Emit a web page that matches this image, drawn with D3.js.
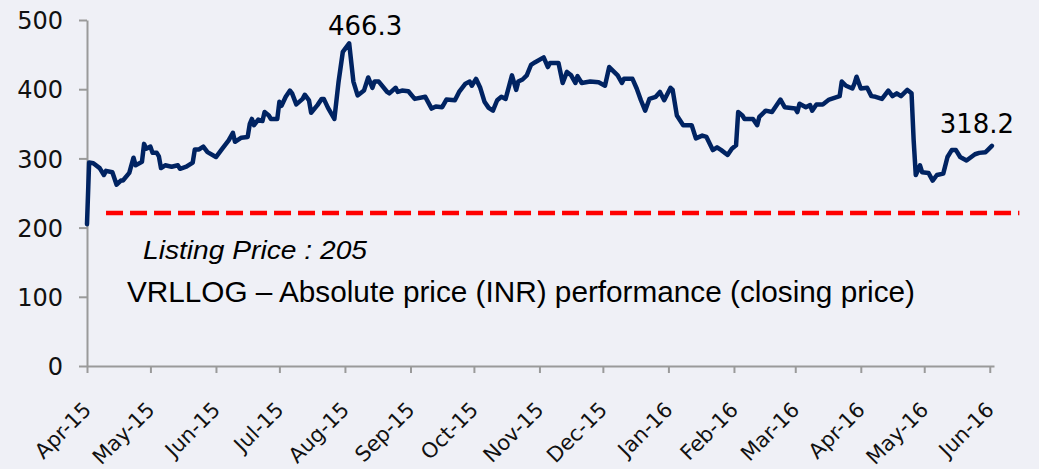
<!DOCTYPE html>
<html>
<head>
<meta charset="utf-8">
<script src="https://cdn.jsdelivr.net/npm/d3@7"></script>
<style>
    html, body { margin: 0; padding: 0; background: #eff0f6; }
    #chart { width: 1039px; height: 469px; }
    .axis path, .axis line { stroke: #9a9a9a; stroke-width: 2; }
    .axis text { font-family: "DejaVu Sans", sans-serif; fill: #111; }
</style>
</head>
<body>
<div id="chart"></div>
<script>
// Days since listing (1 Apr 2015) and closing price (INR)
const listingDate = "2015-04-01";
const dayOffsets = [0, 1, 3, 6, 8, 9, 12, 14, 16, 17, 20, 22, 23, 26, 27, 28, 30, 31, 33, 34, 35, 37, 40, 43, 44, 47, 50, 51, 53, 55,
    57, 61, 64, 67, 69, 70, 73, 76, 77, 78, 79, 81, 83, 84, 86, 87, 90, 91, 92, 94, 96, 97, 99, 102, 103, 105, 106, 109, 111, 112,
    114, 117, 119, 121, 124, 126, 128, 131, 133, 135, 136, 138, 142, 143, 146, 147, 149, 152, 155, 160, 163, 165, 168, 170, 174, 176,
    179, 181, 182, 184, 186, 188, 190, 192, 194, 196, 198, 201, 203, 204, 206, 208, 210, 212, 216, 218, 219, 223, 225, 227, 229, 231,
    232, 234, 238, 242, 245, 247, 251, 253, 254, 258, 260, 262, 264, 266, 269, 271, 273, 276, 277, 279, 282, 286, 288, 291, 293, 296,
    298, 300, 303, 305, 307, 308, 310, 311, 315, 317, 318, 321, 324, 328, 330, 335, 336, 337, 340, 342, 343, 345, 348, 351, 356, 357,
    359, 362, 363, 364, 366, 369, 371, 373, 376, 379, 381, 383, 385, 388, 390, 391, 392, 394, 395, 398, 400, 402, 405, 407, 409, 411,
    413, 416, 420, 422, 425, 426, 428];
const closePrices = [205, 294, 293, 286, 276, 282, 280, 262, 268, 268, 279, 301, 290, 295, 321, 314, 317, 308, 308, 303, 286, 290, 288, 290, 285, 288, 294, 313, 313, 317,
    309, 302, 314, 326, 337, 324, 330, 331, 350, 357, 348, 356, 354, 367, 362, 357, 357, 382, 376, 389, 398, 394, 378, 386, 392, 384, 366, 377, 386, 386,
    373, 357, 411, 454, 466.3, 411, 391, 398, 417, 402, 411, 411, 396, 394, 402, 396, 398, 397, 386, 389, 372, 375, 374, 385, 384, 396,
    408, 411, 405, 415, 402, 382, 373, 369, 384, 389, 386, 420, 399, 411, 414, 420, 435, 439, 446, 432, 438, 438, 409, 425, 420, 409,
    419, 409, 411, 410, 405, 432, 420, 409, 415, 415, 401, 384, 369, 386, 389, 396, 384, 402, 399, 362, 348, 348, 329, 333, 331, 312,
    316, 312, 305, 314, 319, 367, 362, 357, 357, 348, 360, 369, 367, 385, 374, 372, 367, 379, 374, 377, 369, 378, 378, 385, 390, 411,
    405, 401, 408, 418, 401, 402, 390, 389, 386, 398, 390, 394, 390, 399, 394, 326, 276, 290, 280, 279, 268, 276, 278, 302, 312, 312,
    302, 297, 306, 308, 309, 312, 318.2];

const yTicks = [0, 100, 200, 300, 400, 500];
const listingPrice = 205;
const listingLineLevel = 221;   // dashed line sits a bit above 205 in the original
const listingLineSpan = ["2015-04-10", "2016-06-15"];
const xDomain = ["2015-04-01", "2016-06-03"];

const parseDate = d3.timeParse("%Y-%m-%d");
const start = parseDate(listingDate);
const data = dayOffsets.map((d, i) => ({date: d3.timeDay.offset(start, d), close: closePrices[i]}));

const svg = d3.select("#chart").append("svg")
    .attr("width", 1039)
    .attr("height", 469);

const x = d3.scaleTime()
    .domain(xDomain.map(parseDate))
    .range([87, 994]);

const y = d3.scaleLinear()
    .domain([0, 500])
    .range([366, 20]);

// Axes
svg.append("g")
    .attr("class", "axis")
    .attr("transform", "translate(87,0)")
    .call(d3.axisLeft(y).tickValues(yTicks).tickSize(8).tickSizeOuter(0).tickPadding(16))
    .selectAll("text")
    .style("font-size", "24px")
    .attr("dy", "0.36em");

const xAxis = svg.append("g")
    .attr("class", "axis")
    .attr("transform", "translate(0," + y(0) + ")")
    .call(d3.axisBottom(x)
        .ticks(d3.timeMonth.every(1))
        .tickFormat(d3.timeFormat("%b-%y"))
        .tickSize(7)
        .tickSizeOuter(0));

xAxis.selectAll("text")
    .style("font-size", "21px")
    .attr("text-anchor", "end")
    .attr("x", 0)
    .attr("y", 0)
    .attr("dy", null)
    .attr("transform", "translate(5,45) rotate(-45)");

// Listing price reference line
svg.append("line")
    .attr("x1", x(parseDate(listingLineSpan[0])))
    .attr("x2", x(parseDate(listingLineSpan[1])))
    .attr("y1", y(listingLineLevel))
    .attr("y2", y(listingLineLevel))
    .attr("stroke", "#ff0000")
    .attr("stroke-width", 4.5)
    .attr("stroke-dasharray", "17,7");

// Price line
const line = d3.line()
    .x(d => x(d.date))
    .y(d => y(d.close));

svg.append("path")
    .datum(data)
    .attr("fill", "none")
    .attr("stroke", "#002362")
    .attr("stroke-width", 4.5)
    .attr("stroke-linejoin", "round")
    .attr("stroke-linecap", "round")
    .attr("d", line);

// Peak and last value labels
const peak = data[d3.maxIndex(data, d => d.close)];
const last = data[data.length - 1];

svg.append("text")
    .attr("x", x(peak.date) + 16)
    .attr("y", y(peak.close) - 8)
    .attr("text-anchor", "middle")
    .style("font-family", "DejaVu Sans, sans-serif")
    .style("font-size", "26px")
    .text(peak.close.toFixed(1));

svg.append("text")
    .attr("x", x(last.date) - 15)
    .attr("y", y(last.close) - 13)
    .attr("text-anchor", "middle")
    .style("font-family", "DejaVu Sans, sans-serif")
    .style("font-size", "26px")
    .text(last.close.toFixed(1));

// Captions
svg.append("text")
    .attr("x", 143)
    .attr("y", 259)
    .attr("textLength", 224)
    .attr("lengthAdjust", "spacingAndGlyphs")
    .style("font-family", "Liberation Sans, Arial, sans-serif")
    .style("font-style", "italic")
    .style("font-size", "25px")
    .text("Listing Price : " + listingPrice);

svg.append("text")
    .attr("x", 127)
    .attr("y", 302)
    .attr("textLength", 788)
    .attr("lengthAdjust", "spacingAndGlyphs")
    .style("font-family", "Liberation Sans, Arial, sans-serif")
    .style("font-size", "29px")
    .text("VRLLOG \u2013 Absolute price (INR) performance (closing price)");
</script>
</body>
</html>
